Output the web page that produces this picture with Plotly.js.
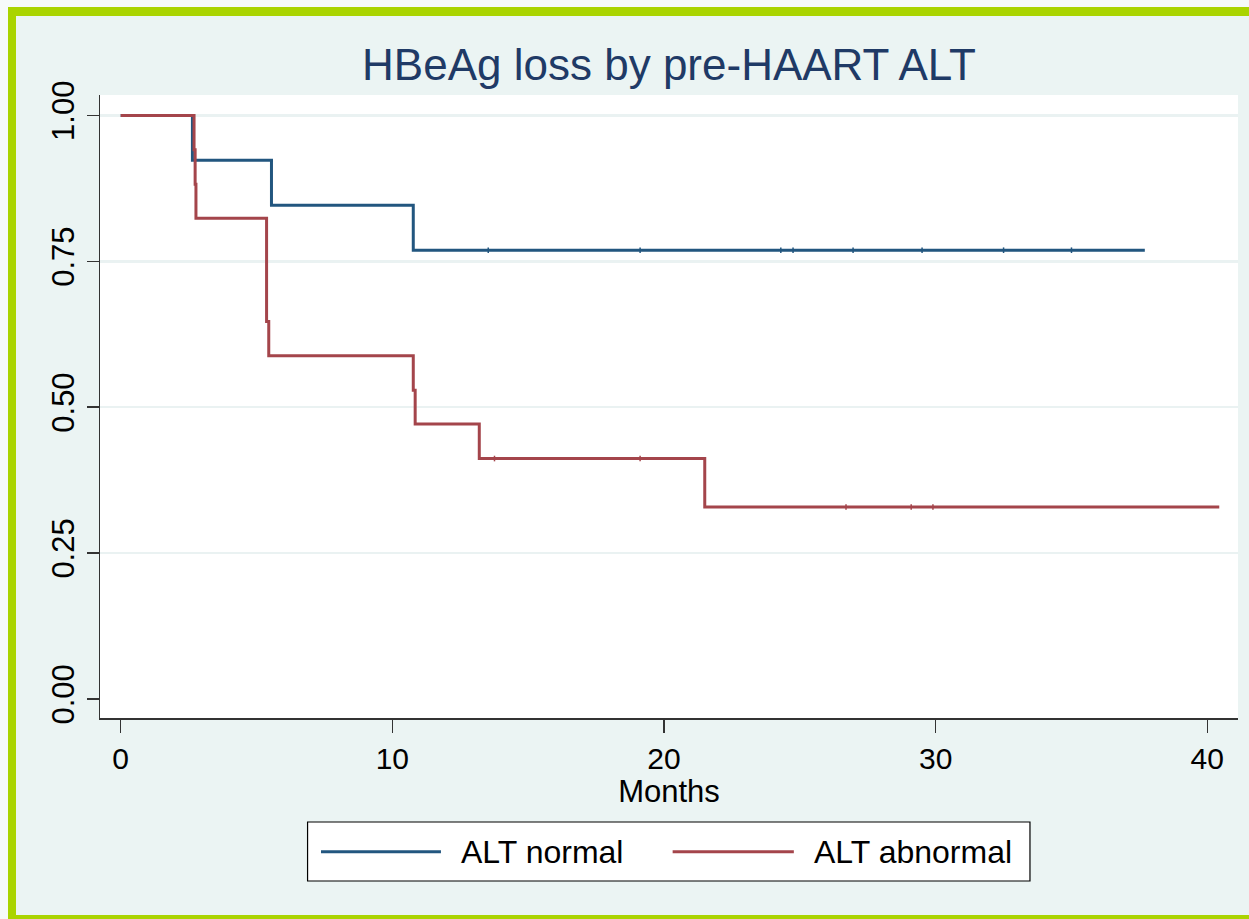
<!DOCTYPE html>
<html>
<head>
<meta charset="utf-8">
<script src="https://cdn.plot.ly/plotly-3.0.1.min.js"></script>
<style>
  html, body { margin: 0; padding: 0; width: 1249px; height: 919px; overflow: hidden; background: #F6FAFA; }
  #frame { position: absolute; left: 8px; top: 7px; width: 1241px; height: 912px;
           background: #AAD400; }
  #chart { position: absolute; left: 16px; top: 16px; width: 1233px; height: 899px; }
</style>
</head>
<body>
<div id="frame"></div>
<div id="chart"></div>
<script>
// Kaplan-Meier estimates
const normalTime = [0, 2.64, 5.55, 10.77, 37.7];
const normalSurv = [1.0, 0.923, 0.846, 0.769, 0.769];
const normalCensorTime = [13.53, 19.12, 24.3, 24.75, 26.96, 29.5, 32.5, 35.0];
const normalCensorSurv = [0.769, 0.769, 0.769, 0.769, 0.769, 0.769, 0.769, 0.769];

const abnormalTime = [0, 2.70, 2.74, 2.77, 5.37, 5.45, 10.77, 10.84, 13.2, 21.5, 40.44];
const abnormalSurv = [1.0, 0.941, 0.882, 0.824, 0.647, 0.588, 0.529, 0.471, 0.412, 0.329, 0.329];
const abnormalCensorTime = [13.76, 19.12, 26.7, 29.1, 29.9];
const abnormalCensorSurv = [0.412, 0.412, 0.329, 0.329, 0.329];

const seriesNames = ["ALT normal", "ALT abnormal"];
const xTicks = [0, 10, 20, 30, 40];
const yTicks = [0, 0.25, 0.5, 0.75, 1.0];
const yTickText = ["0.00", "0.25", "0.50", "0.75", "1.00"];
const gridTicks = [0.25, 0.5, 0.75, 1.0];

const blue = "#22567F";
const red = "#A4454B";
const font = "Liberation Sans, Arial, sans-serif";
const xRange = [-0.762, 41.13];
const yRange = [-0.0326, 1.035];

const traces = [
  { x: normalTime, y: normalSurv, mode: "lines", line: { shape: "hv", color: blue, width: 3 },
    name: seriesNames[0], showlegend: false, hoverinfo: "skip" },
  { x: abnormalTime, y: abnormalSurv, mode: "lines", line: { shape: "hv", color: red, width: 3 },
    name: seriesNames[1], showlegend: false, hoverinfo: "skip" },
  { x: normalCensorTime, y: normalCensorSurv, mode: "markers", yaxis: "y2",
    marker: { symbol: "line-ns", size: 4, color: blue, line: { color: blue, width: 1.5 } },
    showlegend: false, hoverinfo: "skip" },
  { x: abnormalCensorTime, y: abnormalCensorSurv, mode: "markers", yaxis: "y2",
    marker: { symbol: "line-ns", size: 4, color: red, line: { color: red, width: 1.5 } },
    showlegend: false, hoverinfo: "skip" }
];

// custom legend (box, sample lines, labels) in plot-area paper coordinates
const lg = { x0: 0.1824, x1: 0.8172, y0: -0.2616, y1: -0.1669, yc: -0.2146 };
const layout = {
  width: 1233, height: 899,
  margin: { l: 84, r: 11, t: 79, b: 197, pad: 0 },
  paper_bgcolor: "#EBF4F3",
  plot_bgcolor: "#FFFFFF",
  font: { family: font, color: "#000000" },
  title: { text: "HBeAg loss by pre-HAART ALT", font: { family: font, size: 44, color: "#1F3A66" },
           x: 0.5, xref: "paper", xanchor: "center", y: 0.946, yref: "container", yanchor: "middle" },
  xaxis: {
    range: xRange, tickvals: xTicks, ticktext: xTicks.map(String),
    showgrid: false, zeroline: false, showline: true, linecolor: "#333333", linewidth: 1.5,
    ticks: "outside", ticklen: 13, tickwidth: 1.5, tickcolor: "#333333",
    tickfont: { family: font, size: 30, color: "#000000" },
    title: { text: "Months", font: { family: font, size: 31, color: "#000000" }, standoff: 0 },
    fixedrange: true
  },
  yaxis: {
    range: yRange, tickvals: yTicks, ticktext: yTickText, tickangle: -90,
    showgrid: false, zeroline: false, showline: true, linecolor: "#333333", linewidth: 1.5,
    ticks: "outside", ticklen: 12, tickwidth: 1.5, tickcolor: "#333333",
    tickfont: { family: font, size: 31, color: "#000000" },
    fixedrange: true
  },
  yaxis2: {
    range: yRange, overlaying: "y", anchor: "x", side: "left",
    tickvals: gridTicks, showticklabels: false, ticks: "",
    showgrid: true, gridcolor: "#EAF2F2", gridwidth: 2.5, zeroline: false, showline: false,
    fixedrange: true
  },
  shapes: [
    { type: "rect", xref: "paper", yref: "paper", x0: lg.x0, x1: lg.x1, y0: lg.y0, y1: lg.y1,
      line: { color: "#000000", width: 1.2 }, fillcolor: "#FFFFFF", layer: "above" },
    { type: "line", xref: "paper", yref: "paper", x0: 0.1942, x1: 0.2996, y0: lg.yc, y1: lg.yc,
      line: { color: blue, width: 3 } },
    { type: "line", xref: "paper", yref: "paper", x0: 0.5032, x1: 0.6097, y0: lg.yc, y1: lg.yc,
      line: { color: red, width: 3 } }
  ],
  annotations: [
    { xref: "paper", yref: "paper", x: 0.3155, y: lg.yc, xanchor: "left", yanchor: "middle",
      text: seriesNames[0], showarrow: false, font: { family: font, size: 32, color: "#000000" } },
    { xref: "paper", yref: "paper", x: 0.6257, y: lg.yc, xanchor: "left", yanchor: "middle",
      text: seriesNames[1], showarrow: false, font: { family: font, size: 32, color: "#000000" } }
  ],
  showlegend: false
};

Plotly.newPlot("chart", traces, layout, { displayModeBar: false, staticPlot: true });
</script>
</body>
</html>
